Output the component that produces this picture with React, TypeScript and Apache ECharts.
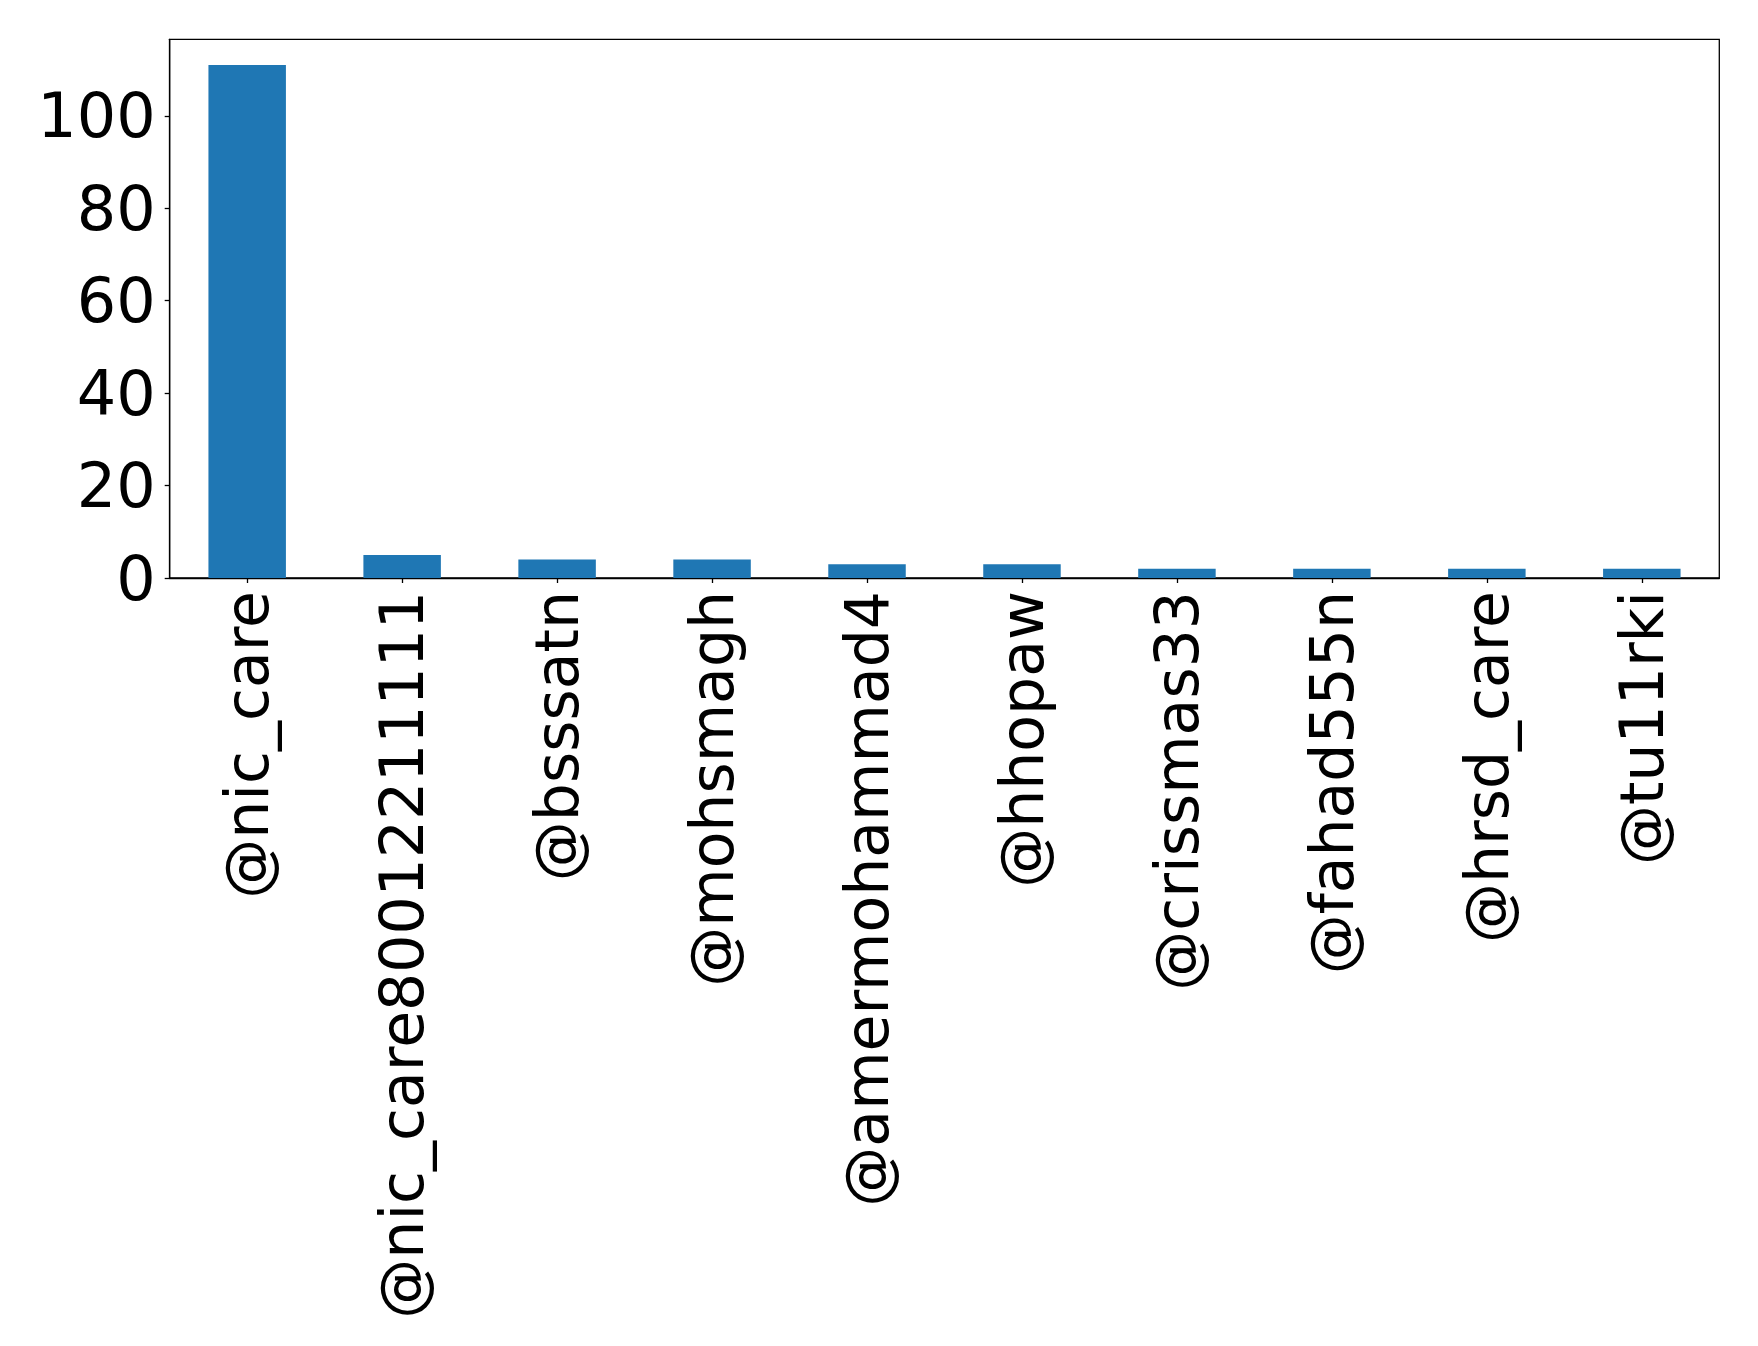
import React, { useEffect, useRef } from "react";
import * as echarts from "echarts";

const categories = [
  "@nic_care",
  "@nic_care80012211111",
  "@bsssatn",
  "@mohsmagh",
  "@amermohammad4",
  "@hhopaw",
  "@crissmas33",
  "@fahad555n",
  "@hrsd_care",
  "@tu11rki",
];
const counts = [111, 5, 4, 4, 3, 3, 2, 2, 2, 2];
const yTicks = [0, 20, 40, 60, 80, 100];

export default function App() {
  const ref = useRef<HTMLDivElement>(null);
  useEffect(() => {
    const chart = echarts.init(ref.current!, null, { renderer: "svg" });
    const font = "DejaVu Sans";
    chart.setOption({
      animation: false,
      backgroundColor: "#ffffff",
      grid: {
        left: 169.7,
        top: 39.3,
        right: 38.7,
        bottom: 768,
        containLabel: false,
        outerBoundsMode: "none",
        show: true,
        borderColor: "#000000",
        borderWidth: 1.3,
        backgroundColor: "transparent",
      },
      xAxis: {
        type: "category",
        data: categories,
        boundaryGap: true,
        axisLine: { show: true, lineStyle: { color: "#000", width: 1.3 } },
        axisTick: { show: true, alignWithLabel: true, length: 5, lineStyle: { color: "#000", width: 1.3 } },
        axisLabel: {
          rotate: 90,
          margin: 13,
          interval: 0,
          fontFamily: font,
          fontSize: 60,
          color: "#000",
        },
        splitLine: { show: false },
      },
      yAxis: {
        type: "value",
        min: 0,
        max: 116.55,
        interval: 20,
        axisLine: { show: true, lineStyle: { color: "#000", width: 1.3 } },
        axisTick: { show: true, length: 5, customValues: yTicks, lineStyle: { color: "#000", width: 1.3 } },
        axisLabel: {
          customValues: yTicks,
          margin: 14,
          fontFamily: font,
          fontSize: 62,
          color: "#000",
        },
        splitLine: { show: false },
      },
      series: [
        {
          type: "bar",
          data: counts,
          barWidth: "50%",
          itemStyle: { color: "#1f77b4" },
        },
      ],
    });
    return () => chart.dispose();
  }, []);
  return (
    <div
      ref={ref}
      style={{ position: "fixed", left: 0, top: 0, width: 1758, height: 1346, background: "#fff" }}
    />
  );
}
